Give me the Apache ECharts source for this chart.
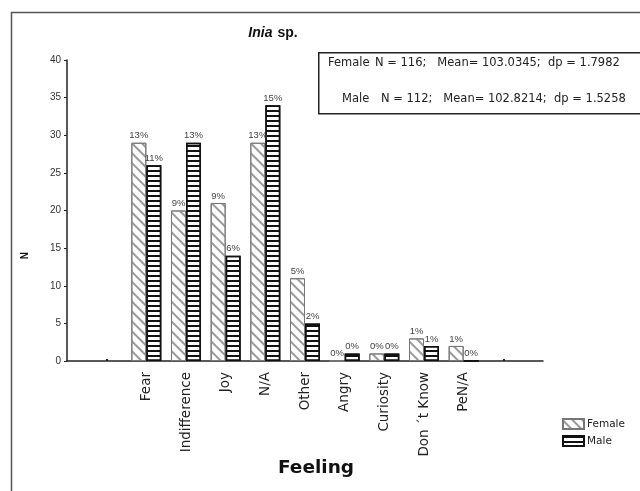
<!DOCTYPE html>
<html>
<head>
<meta charset="utf-8">
<script src="https://cdn.jsdelivr.net/npm/echarts@6/dist/echarts.min.js"></script>
<style>html,body{margin:0;padding:0;background:#fff}#c{width:640px;height:491px}</style>
</head>
<body>
<div id="c"></div>
<script>
var categories = ['Fear', 'Indifference', 'Joy', 'N/A', 'Other', 'Angry', 'Curiosity', 'Don \u00b4t Know', 'PeN/A'];
var femaleValues = [29, 20, 21, 29, 11, 0, 1, 3, 2];
var maleValues = [26, 29, 14, 34, 5, 1, 1, 2, 0];
var femaleLabels = ['13%', '9%', '9%', '13%', '5%', '0%', '0%', '1%', '1%'];
var maleLabels = ['11%', '13%', '6%', '15%', '2%', '0%', '0%', '1%', '0%'];
var yTicks = [0, 5, 10, 15, 20, 25, 30, 35, 40];

// pad with empty slots on both sides, as in the original axis
var pad = 2;
function padded(arr, fill) {
  var out = [];
  for (var i = 0; i < pad; i++) out.push(fill);
  out = out.concat(arr);
  for (var j = 0; j < pad; j++) out.push(fill);
  return out;
}
var xCats = padded(categories, '');
var fData = padded(femaleValues, null);
var mData = padded(maleValues, null);
var fLab = padded(femaleLabels, '');
var mLab = padded(maleLabels, '');

var chart = echarts.init(document.getElementById('c'));
var femaleDecal = { symbol: 'rect', symbolSize: 1, color: '#9a9a9a', dashArrayX: [1, 0], dashArrayY: [1.1, 5], rotation: Math.PI / 4 };
var maleDecal = { symbol: 'rect', symbolSize: 1, color: '#111', dashArrayX: [1, 0], dashArrayY: [1.8, 2.6], rotation: 0 };
var boxFont = { fontFamily: 'DejaVu Sans', fontSize: 11.5, fill: '#222' };

chart.setOption({
  animation: false,
  backgroundColor: '#fff',
  title: {
    text: '{i|Inia} {b|sp.}',
    left: 268, top: 19, textAlign: 'center',
    textStyle: { rich: {
      i: { fontFamily: 'Liberation Sans', fontSize: 14, fontWeight: 'bold', fontStyle: 'italic', color: '#111' },
      b: { fontFamily: 'Liberation Sans', fontSize: 14, fontWeight: 'bold', color: '#111' }
    } }
  },
  legend: {
    left: 557, top: 413, orient: 'vertical', itemWidth: 21, itemHeight: 10, itemGap: 5, icon: 'rect',
    textStyle: { fontFamily: 'DejaVu Sans', fontSize: 10.5, color: '#222', padding: [0, 0, 0, -2] },
    data: ['Female', 'Male']
  },
  grid: { left: 67, right: 97, top: 60, bottom: 130, containLabel: false },
  xAxis: {
    type: 'category',
    data: xCats,
    boundaryGap: false,
    axisLine: { lineStyle: { color: '#222', width: 1.5 } },
    axisTick: { show: true, inside: true, length: 2, interval: function (idx) { return idx === 1 || idx === xCats.length - 2; }, lineStyle: { color: '#222', width: 2 } },
    axisLabel: { rotate: 90, interval: 0, margin: 11, fontFamily: 'DejaVu Sans', fontSize: 13.5, color: '#222' },
    name: 'Feeling', nameLocation: 'middle', nameGap: 98, nameMoveOverlap: false,
    nameTextStyle: { fontFamily: 'DejaVu Sans', fontSize: 18.5, fontWeight: 'bold', color: '#111', padding: [0, 0, 0, 22] },
    splitLine: { show: false }
  },
  yAxis: {
    type: 'value', min: 0, max: 40, interval: 5,
    axisLine: { show: true, lineStyle: { color: '#222', width: 1.5 } },
    axisTick: { show: true, length: 3, lineStyle: { color: '#222' } },
    axisLabel: { fontFamily: 'Liberation Sans', fontSize: 10, color: '#333', margin: 6,
      formatter: function (v) { return yTicks.indexOf(v) >= 0 ? String(v) : ''; } },
    splitLine: { show: false }
  },
  graphic: [
    { type: 'rect', left: 9, top: 10, shape: { width: 700, height: 600 }, style: { fill: 'none', stroke: '#555', lineWidth: 1.5 }, silent: true },
    { type: 'rect', left: 318, top: 52, shape: { width: 340, height: 61 }, style: { fill: '#fff', stroke: '#222', lineWidth: 1.5 } },
    { type: 'text', left: 328, top: 57, style: Object.assign({ text: 'Female' }, boxFont) },
    { type: 'text', left: 375, top: 57, style: Object.assign({ text: 'N = 116;   Mean= 103.0345;  dp = 1.7982' }, boxFont) },
    { type: 'text', left: 342, top: 93, style: Object.assign({ text: 'Male' }, boxFont) },
    { type: 'text', left: 381, top: 93, style: Object.assign({ text: 'N = 112;   Mean= 102.8214;  dp = 1.5258' }, boxFont) },
    { type: 'text', left: 20, top: 252, rotation: Math.PI / 2, style: { text: 'N', fontFamily: 'Liberation Sans', fontSize: 10, fontWeight: 'bold', fill: '#111' } }
  ],
  series: [
    {
      name: 'Female', type: 'bar', data: fData, barWidth: 15, barGap: '0%',
      itemStyle: { color: '#fff', borderColor: '#777', borderWidth: 1, decal: femaleDecal },
      label: { show: true, position: 'top', distance: 2, fontFamily: 'Liberation Sans', fontSize: 9.5, color: '#444',
        formatter: function (p) { return fLab[p.dataIndex]; } }
    },
    {
      name: 'Male', type: 'bar', data: mData, barWidth: 15,
      itemStyle: { color: '#fff', borderColor: '#111', borderWidth: 1.5, decal: maleDecal },
      label: { show: true, position: 'top', distance: 2, fontFamily: 'Liberation Sans', fontSize: 9.5, color: '#444',
        formatter: function (p) { return mLab[p.dataIndex]; } }
    }
  ]
});
</script>
</body>
</html>
